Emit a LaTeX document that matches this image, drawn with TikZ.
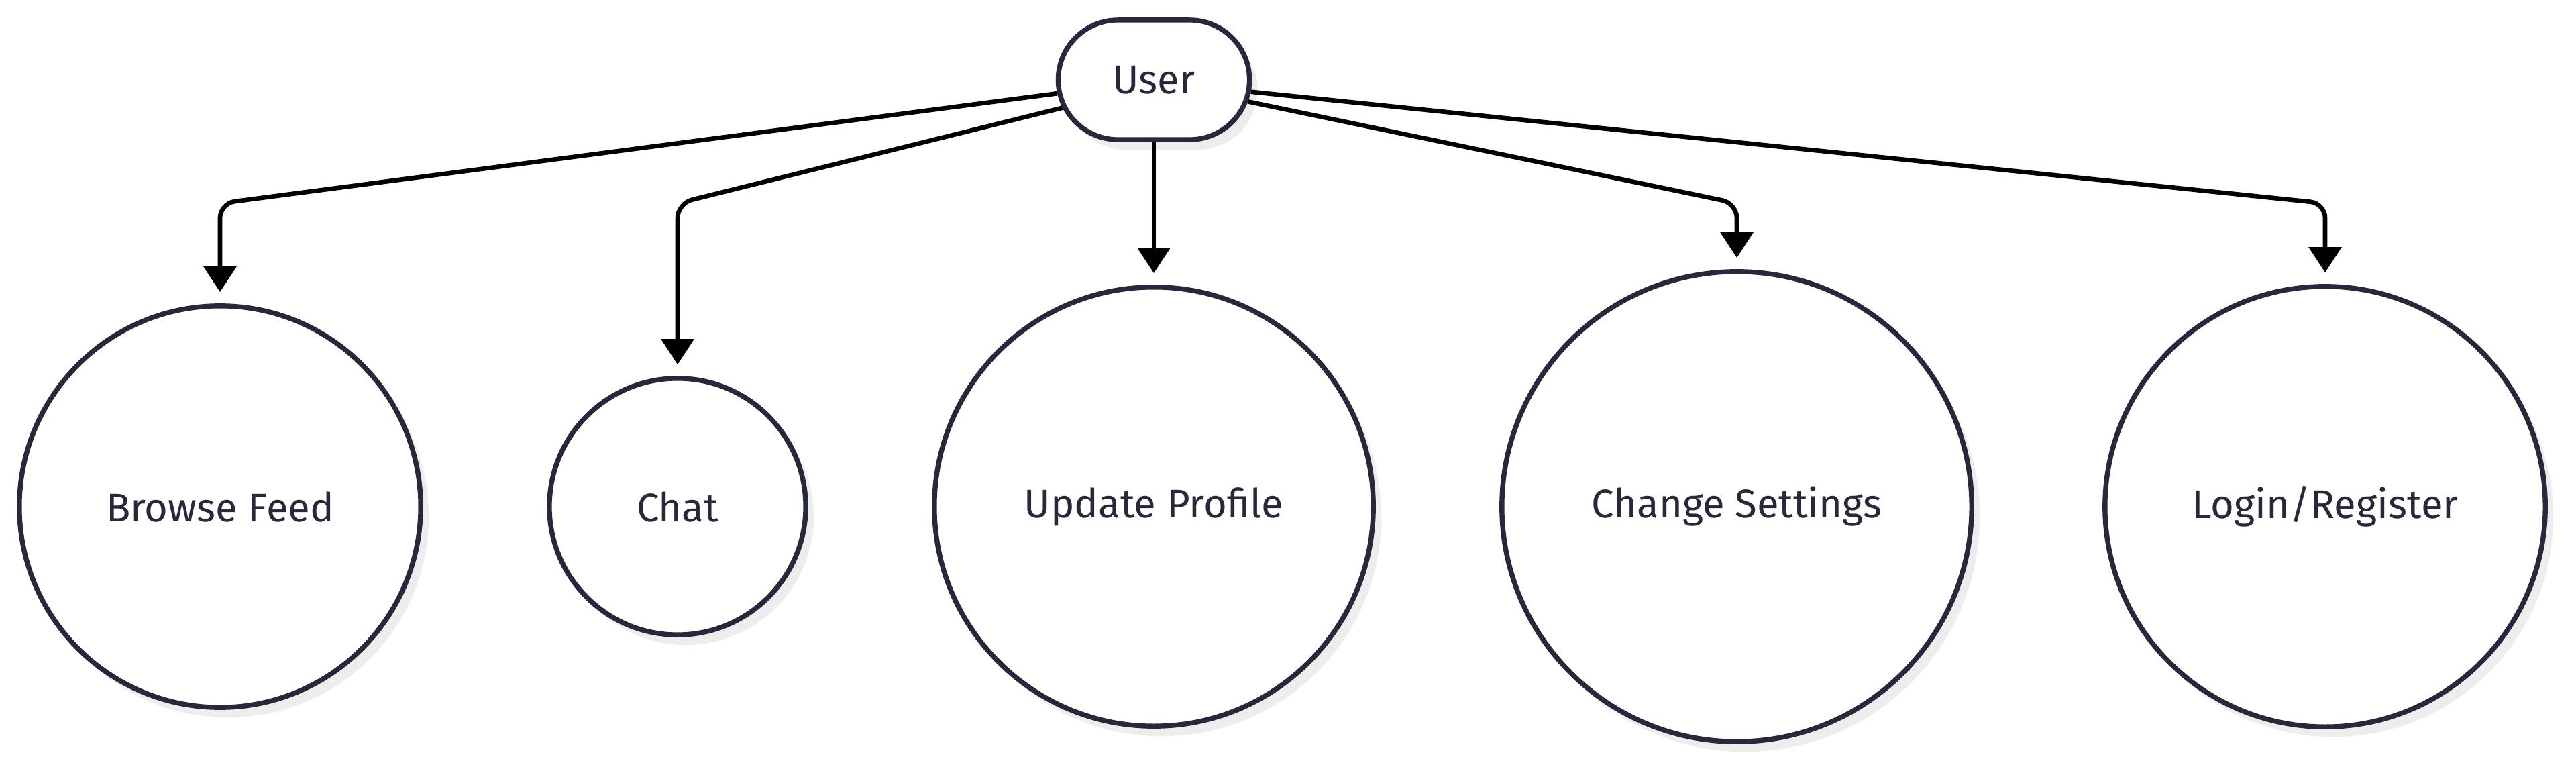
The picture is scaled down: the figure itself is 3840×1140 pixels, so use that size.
\documentclass[tikz,border=0pt]{standalone}
\usepackage{fontspec}
\setmainfont{Fira Sans}
\usepackage{xcolor}
\usepackage{tikz}
\usetikzlibrary{positioning,arrows.meta,shapes.misc,shadows}

\definecolor{ink}{HTML}{28283C}

\begin{document}
\begin{tikzpicture}[
    x=0.01cm, y=-0.01cm,
    font=\fontsize{17}{20}\selectfont,
    sh/.style={drop shadow={shadow xshift=0.12cm, shadow yshift=-0.15cm, fill=black!7, opacity=1}},
    act/.style={draw=ink, text=ink, line width=2.1pt, fill=white, sh},
    usr/.style={act, rounded rectangle, minimum width=2.85cm, minimum height=1.78cm, inner sep=0pt},
    uc/.style={act, circle, inner sep=0pt},
    fl/.style={-{Triangle[length=0.38cm, width=0.48cm]}, line width=1.9pt, rounded corners=0.22cm, shorten >=0.17cm},
]
    \useasboundingbox (0,0) rectangle (3840,1140);

    \node[usr] (user) at (1720,119) {User};
    \node[uc, minimum size=5.98cm] (bf) at (328,755) {Browse Feed};
    \node[uc, minimum size=3.82cm] (chat) at (1010,755) {Chat};
    \node[uc, minimum size=6.54cm] (up) at (1720,755) {Update Profile};
    \node[uc, minimum size=7.0cm] (cs) at (2589,755) {Change Settings};
    \node[uc, minimum size=6.56cm] (lr) at (3466,755) {Login/Register};

    \coordinate (row) at (0,303);
    \draw[fl] (user.188) -- (bf |- row) -- (bf.north);
    \draw[fl] (user.197) -- (chat |- row) -- (chat.north);
    \draw[fl] (user.south) -- (up.north);
    \draw[fl] (user.347) -- (cs |- row) -- (cs.north);
    \draw[fl] (user.353) -- (lr |- row) -- (lr.north);
\end{tikzpicture}
\end{document}
